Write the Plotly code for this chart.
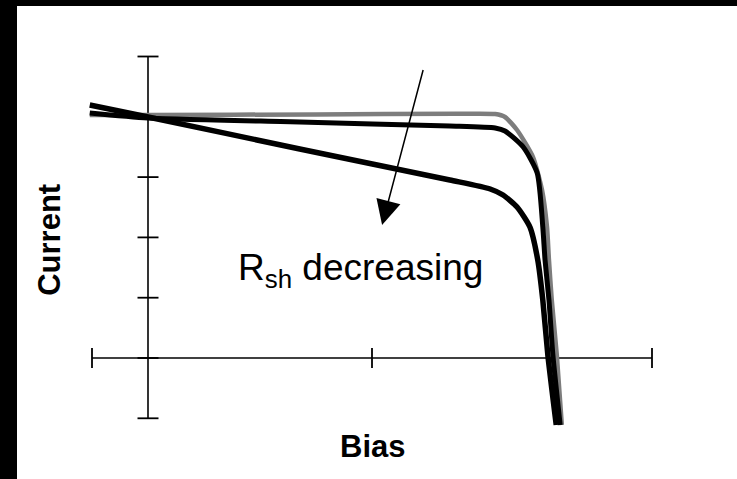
import plotly.graph_objects as go

# ---- data (bias in V, current in arbitrary units) ----
bias_grey = [-0.104, 0.0, 0.30, 0.55, 0.620, 0.6375, 0.659, 0.6875, 0.7036, 0.7125, 0.716, 0.721, 0.730, 0.739]
curr_grey = [4.03, 4.03, 4.04, 4.05, 4.046, 3.997, 3.781, 3.333, 2.786, 2.172, 1.625, 0.962, 0.05, -1.111]

bias_black = [-0.104, 0.0, 0.271, 0.539, 0.620, 0.6375, 0.670, 0.695, 0.705, 0.709, 0.716, 0.723, 0.736]
curr_black = [4.063, 3.98, 3.914, 3.847, 3.814, 3.765, 3.499, 3.068, 2.172, 1.625, 0.962, 0.05, -1.111]

bias_shunt = [-0.104, 0.0, 0.271, 0.539, 0.611, 0.634, 0.659, 0.682, 0.696, 0.705, 0.714, 0.729]
curr_shunt = [4.196, 3.997, 3.466, 2.952, 2.803, 2.703, 2.504, 2.172, 1.625, 0.962, 0.05, -1.111]

x_axis_range = [-0.1, 0.9]
y_axis_range = [-1, 5]
x_ticks = [-0.1, 0.4, 0.9]
y_ticks = [-1, 0, 1, 2, 3, 4, 5]

# pixel mapping helpers (figure spans full window)
W, H = 737, 479
PX0, PXS = 148, 560.0   # x pixel of V=0, pixels per V
PY0, PYS = 358, 60.3    # y pixel of I=0, pixels per unit
xr = [(0 - PX0) / PXS, (W - PX0) / PXS]
yr = [(PY0 - H) / PYS, PY0 / PYS]

fig = go.Figure()

# axes drawn as lines
fig.add_trace(go.Scatter(x=x_axis_range, y=[0, 0], mode="lines",
                         line=dict(color="black", width=1.6), hoverinfo="skip"))
fig.add_trace(go.Scatter(x=[0, 0], y=y_axis_range, mode="lines",
                         line=dict(color="black", width=1.6), hoverinfo="skip"))
tx, ty = [], []
dy = 10 / PYS
for t in x_ticks:
    tx += [t, t, None]
    ty += [-dy, dy, None]
dx = 10.5 / PXS
for t in y_ticks:
    tx += [-dx, dx, None]
    ty += [t, t, None]
fig.add_trace(go.Scatter(x=tx, y=ty, mode="lines",
                         line=dict(color="black", width=1.8), hoverinfo="skip"))

# curves
fig.add_trace(go.Scatter(x=bias_grey, y=curr_grey, mode="lines",
                         line=dict(color="#7d7d7d", width=4.5, shape="spline", smoothing=0.6)))
fig.add_trace(go.Scatter(x=bias_black, y=curr_black, mode="lines",
                         line=dict(color="black", width=5, shape="spline", smoothing=0.6)))
fig.add_trace(go.Scatter(x=bias_shunt, y=curr_shunt, mode="lines",
                         line=dict(color="black", width=5.5, shape="spline", smoothing=0.6)))

font_b = dict(family="Liberation Sans, Arial, sans-serif", size=31, color="black")
fig.add_annotation(x=-0.175, y=1.96, text="<b>Current</b>", showarrow=False,
                   textangle=-90, font=font_b, xref="x", yref="y")
fig.add_annotation(x=0.4, y=-1.46, text="<b>Bias</b>", showarrow=False,
                   font=font_b, xref="x", yref="y")
fig.add_annotation(x=0.158, y=1.46, text="R<sub>sh</sub> decreasing", showarrow=False,
                   xanchor="left", yanchor="middle",
                   font=dict(family="Liberation Sans, Arial, sans-serif", size=37, color="black"),
                   xref="x", yref="y")
# arrow
fig.add_annotation(x=0.418, y=2.206, ax=0.492, ay=4.80, axref="x", ayref="y",
                   xref="x", yref="y", text="", showarrow=True,
                   arrowhead=2, arrowsize=3.3, arrowwidth=1.5, arrowcolor="black", standoff=0)

# black scan borders
fig.add_shape(type="rect", xref="paper", yref="paper", x0=0, x1=17 / W, y0=0, y1=1,
              fillcolor="black", line=dict(width=0), layer="above")
fig.add_shape(type="rect", xref="paper", yref="paper", x0=0, x1=1, y0=1 - 6 / H, y1=1,
              fillcolor="black", line=dict(width=0), layer="above")

fig.update_layout(width=W, height=H, margin=dict(l=0, r=0, t=0, b=0),
                  paper_bgcolor="white", plot_bgcolor="white", showlegend=False,
                  xaxis=dict(visible=False, range=xr, fixedrange=True),
                  yaxis=dict(visible=False, range=yr, fixedrange=True))

fig.write_html("out.html")
